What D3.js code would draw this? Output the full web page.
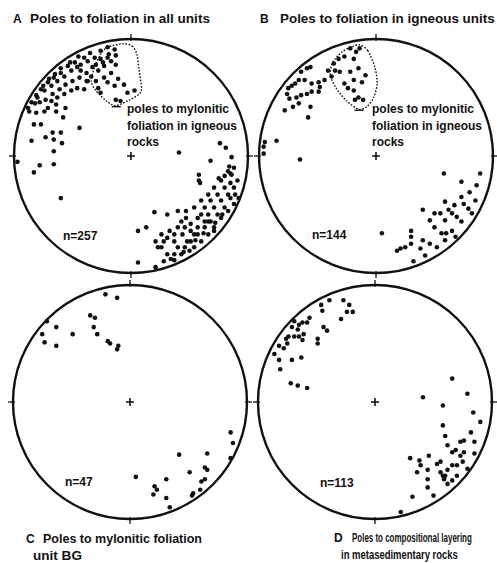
<!DOCTYPE html>
<html>
<head>
<meta charset="utf-8">
<script src="https://cdn.jsdelivr.net/npm/d3@7"></script>
<style>
    body { margin: 0; background: #fff; }
    text { font-family: Arial, "Liberation Sans", Helvetica, sans-serif; font-weight: bold; font-size: 12px; fill: #111; }
</style>
</head>
<body>
<div id="chart"></div>
<script>

// pole positions as [east, north], in percent of the net radius
const polesA = [
    // scattered west
    [-44,24],[-83,27],[-77,27],[-85,13],[-73,16],[-66,14],[-59,11],[-66,4],[-66,-7],[-78,-8],
    [-83,-14],[-97,-5],[-60,-36],[-81,37],[-74,38],[-64,38],[-58,33],[-56,41],[-67,20],[-60,20],
    [-71,41],[-64,44],[-88,41],
    // scattered east
    [76,11],[41,3],[68,-4],[81,7],[58,-16],[59,-23],[86,-1],[84,-9],[85,-15],[75,-19],[58,-21],
    // south-east cluster
    [20,-48],[31,-50],[40,-47],[47,-47],[47,-53],[43,-56],[40,-61],[33,-64],[26,-67],[21,-73],
    [23,-78],[28,-73],[37,-73],[44,-67],[51,-64],[57,-61],[63,-56],[66,-50],[71,-44],[77,-38],
    [83,-33],[88,-27],[91,-21],[86,-16],[88,-10],[83,-13],[77,-21],[71,-27],[66,-33],[60,-38],
    [54,-44],[60,-50],[66,-56],[71,-61],[77,-53],[83,-47],[88,-41],[92,-36],[48,-73],[54,-78],
    [60,-73],[66,-67],[71,-64],[54,-67],[40,-78],[31,-84],[37,-84],[46,-78],[6,-64],[13,-61],
    [6,-91],[21,-95],[37,-89],[50,-81],[74,-33],[80,-27],[68,-38],[63,-44],[57,-53],[51,-58],
    [46,-61],[37,-67],[31,-70],[26,-78],[85,-36],[80,-44],[74,-50],[68,-56],[63,-61],[57,-67],
    [51,-73],[43,-84],[85,-23],[80,-17],[89,-33],[78,-50],[72,-57],[62,-66],[55,-72],[45,-82],
    [34,-88],[28,-90],
    // north-west band
    [-43,78],[-37,81],[-31,84],[-26,90],[-20,93],[-14,91],[-26,83],[-33,76],[-38,71],[-46,76],
    [-51,73],[-57,68],[-63,64],[-68,60],[-74,56],[-80,50],[-85,46],[-54,77],[-48,80],[-60,71],
    [-66,67],[-71,63],[-77,57],[-81,52],[-78,46],[-73,48],[-67,53],[-61,57],[-56,61],[-50,64],
    [-44,67],[-38,64],[-34,68],[-28,73],[-23,77],[-17,81],[-13,86],[-19,87],[-24,80],[-30,78],
    [-68,47],[-63,50],[-57,53],[-51,56],[-46,58],[-40,57],[-43,73],[-37,64],[-60,75],[-52,80],
    [-35,88],[-70,66],[-82,45],[-87,38],[-75,60],[-65,70],[-45,85],[-40,84],
    // inside the mylonitic outline
    [-20,84],[-13,78],[-17,71],[-11,66],[-20,63],[-14,60],[-3,54],[3,56],[-9,47],[-13,48],
    [-28,58],[-26,54],[-30,64],[-23,67],[-6,61]
];

const polesB = [
    // north-west band
    [-22,92],[-17,89],[-14,92],[-19,83],[-27,85],[-32,83],[-36,79],[-41,73],[-35,73],[-31,72],
    [-38,68],[-44,65],[-49,63],[-55,62],[-61,65],[-64,72],[-59,75],[-56,76],[-66,65],[-69,62],
    [-72,60],[-75,58],[-76,53],[-74,49],[-68,50],[-64,52],[-59,53],[-55,55],[-66,45],[-71,42],
    [-78,39],[-56,42],[-58,33],[-49,55],[-48,59],
    // inside the mylonitic outline
    [-15,75],[-19,65],[-12,63],[-19,56],[-24,58],[-15,50],[-18,48],[-11,48],[-27,62],[-22,72],[-9,69],
    // scattered west
    [-85,13],[-96,8],[-96,2],[-65,-3],[-95,12],
    // south-east cluster
    [5,-66],[58,-15],[73,-22],[89,-15],[86,-25],[80,-31],[73,-35],[59,-39],[40,-46],[62,-46],
    [67,-42],[75,-41],[79,-45],[85,-38],[82,-49],[50,-49],[46,-55],[50,-61],[56,-66],[60,-66],
    [65,-64],[68,-69],[59,-72],[52,-78],[46,-75],[40,-72],[30,-64],[30,-69],[30,-75],[25,-78],
    [21,-79],[18,-81],[38,-79],[42,-85],[32,-90],[59,-55],[55,-49],[69,-52],[73,-56],[65,-49]
];

const polesC = [
    [-21,92],[-11,89],[-34,74],[-30,72],[-31,64],[-28,58],[-19,52],[-17,50],[-11,45],[-10,48],
    [-49,58],[-63,64],[-71,69],[-75,58],[-73,51],[-63,48],
    [86,-26],[88,-35],[86,-48],[66,-44],[42,-45],[51,-60],[64,-56],[66,-58],[61,-68],[64,-66],
    [54,-78],[53,-80],[60,-75],[31,-66],[21,-72],[23,-75],[20,-79],[31,-82],[34,-90],[5,-64]
];

const polesD = [
    // north-west band
    [-27,87],[-22,83],[-24,77],[-19,77],[-29,71],[-39,87],[-46,83],[-45,78],[-56,72],[-58,68],
    [-62,68],[-65,66],[-66,62],[-69,69],[-71,64],[-74,56],[-76,54],[-78,46],[-75,50],[-69,56],
    [-65,56],[-61,58],[-62,53],[-49,54],[-49,50],[-44,64],[-41,61],[-82,36],[-81,28],[-71,36],
    [-63,38],[-72,16],[-66,14],[-58,12],[-86,41],[-82,48],
    // south-east cluster
    [66,20],[79,7],[41,4],[58,-3],[84,-9],[90,-17],[58,-20],[60,-29],[82,-26],[73,-34],
    [76,-33],[85,-34],[62,-37],[66,-43],[69,-41],[73,-46],[76,-43],[85,-44],[46,-46],[30,-48],
    [38,-50],[39,-54],[45,-58],[36,-60],[53,-53],[56,-51],[56,-60],[58,-63],[60,-63],[59,-66],
    [62,-58],[66,-54],[70,-54],[75,-51],[70,-63],[66,-67],[45,-66],[45,-73],[32,-81],[50,-80],
    [62,-70],[22,-94],[79,-57]
];

// dotted outlines around the mylonitic foliation poles
const outlineA = [[-7,96],[1,94],[5,87],[7,73],[9,58],[7,53],[-1,48],[-13,43],[-21,47],[-30,56],[-34,64],[-31,76],[-26,87],[-20,93]];
const outlineB = [[-14,95],[-7,90],[-1,76],[1,62],[-2,50],[-8,42],[-15,40],[-25,47],[-34,58],[-39,69],[-37,80],[-29,89],[-21,93]];

// labels
const panelLetters = ["A", "B", "C", "D"];
const panelTitles = [
    ["Poles to foliation in all units"],
    ["Poles to foliation in igneous units"],
    ["Poles to mylonitic foliation", "unit BG"],
    ["Poles to compositional layering", "in metasedimentary rocks"]
];
const countLabels = ["n=257", "n=144", "n=47", "n=113"];
const noteLines = ["poles to mylonitic", "foliation in igneous", "rocks"];


/** Class representing one equal-area net with its poles. */
class StereoPlot {

    /**
     * Creates a new StereoPlot in the given svg
     */
    constructor(svg, cx, cy, radius, poles) {

        this.g = svg.append("g");
        this.radius = radius;

        // net coordinates run -100..100 across the primitive circle
        this.x = d3.scaleLinear().domain([-100, 100]).range([cx - radius, cx + radius]);
        this.y = d3.scaleLinear().domain([-100, 100]).range([cy + radius, cy - radius]);

        this.drawNet();
        this.drawPoles(poles);
    }

    /**
     * Primitive circle, N-S-E-W ticks and centre cross
     */
    drawNet() {
        let x = this.x, y = this.y;

        this.g.append("circle")
            .attr("cx", x(0))
            .attr("cy", y(0))
            .attr("r", this.radius)
            .attr("fill", "none")
            .attr("stroke", "#111")
            .attr("stroke-width", 2.4);

        let ticks = [[0, 1], [0, -1], [1, 0], [-1, 0]];
        this.g.selectAll(".tick")
            .data(ticks)
            .enter()
            .append("line")
            .attr("x1", d => x(d[0] * 100) + d[0] * 5)
            .attr("x2", d => x(d[0] * 100) - d[0] * 2)
            .attr("y1", d => y(d[1] * 100) - d[1] * 5)
            .attr("y2", d => y(d[1] * 100) + d[1] * 2)
            .attr("stroke", "#111")
            .attr("stroke-width", 1.3);

        // centre cross
        this.g.append("path")
            .attr("d", `M${x(0) - 4},${y(0)}h8M${x(0)},${y(0) - 4}v8`)
            .attr("stroke", "#111")
            .attr("stroke-width", 1.6);
    }

    /**
     * Plot the poles as filled dots
     */
    drawPoles(poles) {
        let x = this.x, y = this.y;
        this.g.selectAll(".pole")
            .data(poles)
            .enter()
            .append("circle")
            .attr("class", "pole")
            .attr("cx", d => x(d[0]))
            .attr("cy", d => y(d[1]))
            .attr("r", 2.3)
            .attr("fill", "#111");
    }

    /**
     * Dotted outline with its note text
     */
    drawOutline(points, noteX, noteY) {
        let x = this.x, y = this.y;

        let line = d3.line()
            .curve(d3.curveCardinalClosed.tension(0.2))
            .x(d => x(d[0]))
            .y(d => y(d[1]));

        this.g.append("path")
            .datum(points)
            .attr("d", line)
            .attr("fill", "none")
            .attr("stroke", "#111")
            .attr("stroke-width", 1.4)
            .attr("stroke-dasharray", "1.6,1.6");

        // short solid mark under the outline
        let low = points.reduce((a, b) => (b[1] < a[1] ? b : a));
        this.g.append("line")
            .attr("x1", x(low[0]) - 4)
            .attr("x2", x(low[0]) + 5)
            .attr("y1", y(low[1]) + 1)
            .attr("y2", y(low[1]) + 1)
            .attr("stroke", "#111")
            .attr("stroke-width", 1.4);

        this.g.append("text")
            .selectAll("tspan")
            .data(noteLines)
            .enter()
            .append("tspan")
            .attr("x", noteX)
            .attr("y", (d, i) => noteY + i * 16.5)
            .text(d => d);
    }

    /**
     * Count label inside the net
     */
    drawCount(label, lx, ly) {
        this.g.append("text")
            .attr("x", lx)
            .attr("y", ly)
            .text(label);
    }
}


let svg = d3.select("#chart")
    .append("svg")
    .attr("width", 497)
    .attr("height", 563);

let radius = 117;
let centres = [[131, 156], [376, 156], [130, 402], [375, 402]];
let allPoles = [polesA, polesB, polesC, polesD];

let plots = centres.map((c, i) => new StereoPlot(svg, c[0], c[1], radius, allPoles[i]));

plots[0].drawOutline(outlineA, 127, 113);
plots[1].drawOutline(outlineB, 372, 113);

// count labels
let countPos = [[63, 240], [312, 239], [65, 486], [320, 487]];
plots.forEach((p, i) => p.drawCount(countLabels[i], countPos[i][0], countPos[i][1]));

// panel titles (A, B above; C, D below)
let letterPos = [[13, 23], [260, 23], [26, 543], [334, 542]];
let titlePos = [[30, 23], [280, 23], [43, 543], [352, 542]];
let secondLineX = [0, 0, 33, 341];
// widths the lines take up in the figure
let lineWidths = [[180], [215], [159, 49], [120, 117]];

panelTitles.forEach((lines, i) => {
    svg.append("text")
        .attr("x", letterPos[i][0])
        .attr("y", letterPos[i][1])
        .text(panelLetters[i]);

    lines.forEach((t, j) => {
        let lx = j == 0 ? titlePos[i][0] : secondLineX[i];
        let ly = titlePos[i][1] + j * 16.5;
        let label = svg.append("text").text(t);

        // stretch or squeeze the line horizontally to its width in the figure
        let natural = label.node().getComputedTextLength();
        let sx = lineWidths[i][j] / natural;
        label.attr("transform", `translate(${lx},${ly}) scale(${sx},1)`);
    });
});

</script>
</body>
</html>
